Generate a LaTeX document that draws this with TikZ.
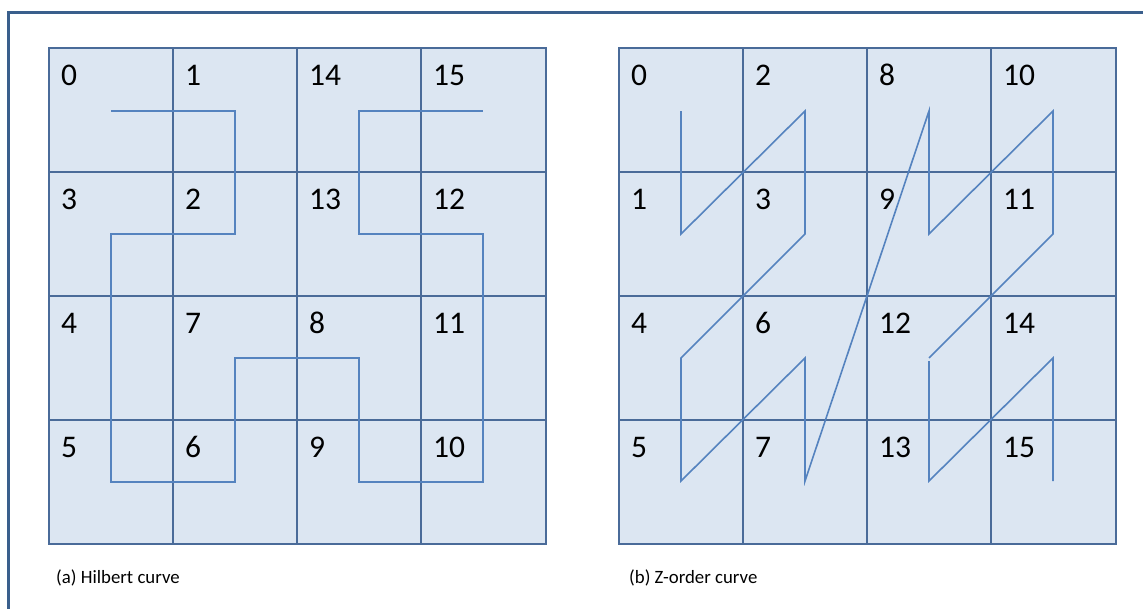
\documentclass[tikz,border=0pt]{standalone}
\usepackage{fontspec}
\setmainfont{Carlito}
\definecolor{framec}{HTML}{3A5F8C}
\definecolor{gridc}{HTML}{4A6B99}
\definecolor{curvec}{HTML}{5583BF}
\definecolor{fillc}{HTML}{DCE6F2}
\begin{document}
\begin{tikzpicture}[x=1pt,y=-1pt,
  gridline/.style={draw=gridc, line width=1.7pt},
  curveline/.style={draw=curvec, line width=1.6pt, line join=miter},
  num/.style={anchor=base west, inner sep=0pt, font=\fontsize{31.5}{32}\selectfont},
  captxt/.style={anchor=base west, inner sep=0pt, font=\fontsize{18.8}{19}\selectfont}]
\useasboundingbox (0,0) rectangle (1143,608);
% outer frame
\draw[draw=framec, line width=3pt] (8.5,640) -- (8.5,12) -- (1170,12);
% grids
\foreach \ox in {49,619}{
  \fill[fillc] (\ox,48) rectangle ++(497,496);
  \foreach \i in {1,2,3}{
    \draw[gridline] ({\ox+124*\i},48) -- ({\ox+124*\i},544);
    \draw[gridline] (\ox,{48+124*\i}) -- ({\ox+497},{48+124*\i});
  }
  \draw[gridline] (\ox,48) rectangle ++(497,496);
}
% labels
\foreach \lab [count=\k from 0] in {0,1,14,15,3,2,13,12,4,7,8,11,5,6,9,10}{
  \pgfmathtruncatemacro{\c}{mod(\k,4)}
  \pgfmathtruncatemacro{\r}{div(\k,4)}
  \node[num] (h\lab) at ({49+12+124*\c},{48+37+124*\r}) {\lab};
}
\foreach \lab [count=\k from 0] in {0,2,8,10,1,3,9,11,4,6,12,14,5,7,13,15}{
  \pgfmathtruncatemacro{\c}{mod(\k,4)}
  \pgfmathtruncatemacro{\r}{div(\k,4)}
  \node[num] (z\lab) at ({619+12+124*\c},{48+37+124*\r}) {\lab};
}
% Hilbert curve
\draw[curveline] (111,111) -- (235,111) -- (235,234) -- (111,234)
  -- (111,358) -- (111,482) -- (235,482) -- (235,358) -- (359,358)
  -- (359,482) -- (483,482) -- (483,358) -- (483,234) -- (359,234)
  -- (359,111) -- (483,111);
% Z-order curve
\draw[curveline] (681,111) -- (681,234) -- (805,111) -- (805,234)
  -- (681,358) -- (681,481) -- (805,358) -- (805,481)
  -- (929,111) -- (929,234) -- (1053,111) -- (1053,234)
  -- (929,358);
\draw[curveline] (929,361) -- (929,481) -- (1053,358) -- (1053,481);
% captions
\node[captxt] (capa) at (56,583) {(a) Hilbert curve};
\node[captxt] (capb) at (629,583) {(b) Z-order curve};
\end{tikzpicture}
\end{document}
